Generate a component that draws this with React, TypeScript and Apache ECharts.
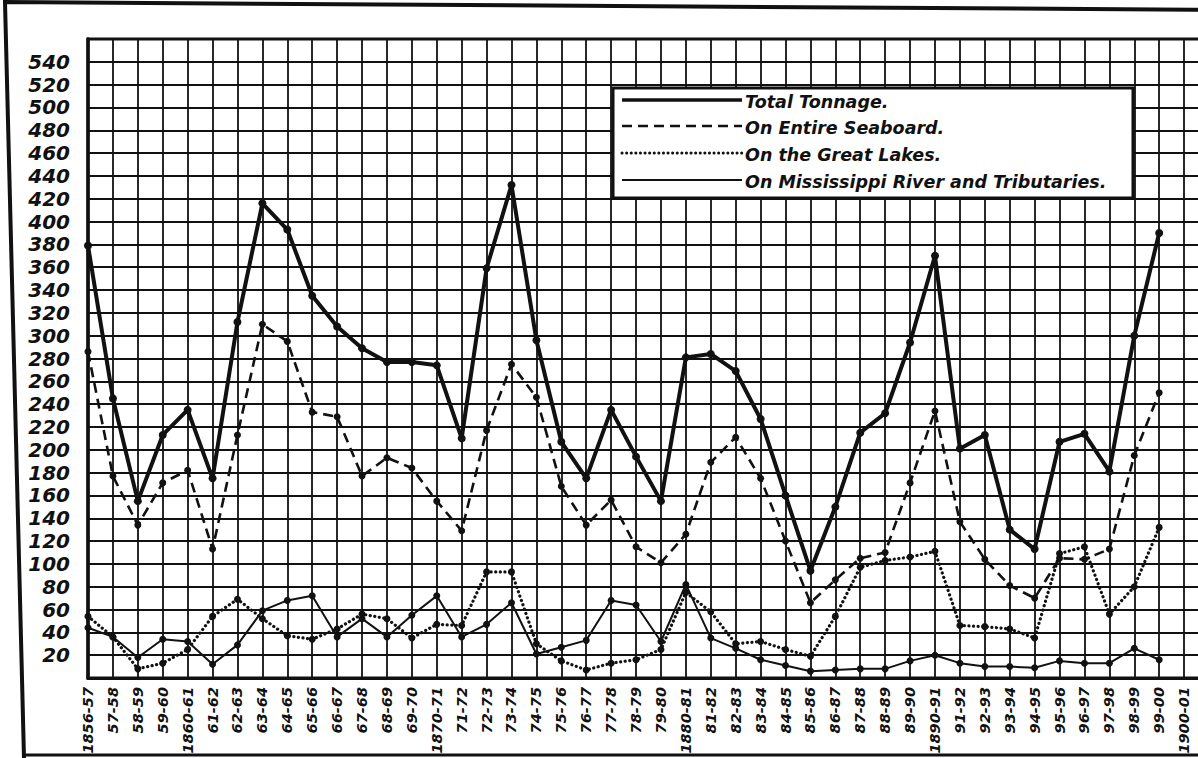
import React, { useEffect, useRef } from "react";
import * as echarts from "echarts";

const categories = [
  "1856-57", "57-58", "58-59", "59-60", "1860-61", "61-62", "62-63", "63-64", "64-65", "65-66",
  "66-67", "67-68", "68-69", "69-70", "1870-71", "71-72", "72-73", "73-74", "74-75", "75-76",
  "76-77", "77-78", "78-79", "79-80", "1880-81", "81-82", "82-83", "83-84", "84-85", "85-86",
  "86-87", "87-88", "88-89", "89-90", "1890-91", "91-92", "92-93", "93-94", "94-95", "95-96",
  "96-97", "97-98", "98-99", "99-00", "1900-01",
];

const totalTonnage = [
  379, 245, 155, 213, 235, 175, 312, 416, 393, 335,
  308, 289, 277, 277, 274, 210, 359, 432, 296, 207,
  175, 235, 194, 155, 281, 284, 269, 227, 160, 94,
  150, 215, 232, 294, 370, 201, 213, 130, 113, 207,
  214, 181, 300, 390,
];

const seaboard = [
  286, 177, 134, 171, 182, 113, 213, 310, 295, 233,
  229, 177, 193, 184, 155, 129, 217, 275, 246, 168,
  134, 156, 115, 101, 126, 189, 211, 175, 120, 66,
  86, 105, 110, 171, 234, 137, 104, 81, 70, 105,
  104, 113, 195, 250,
];

const greatLakes = [
  54, 36, 8, 13, 25, 54, 69, 52, 37, 34,
  43, 56, 52, 35, 47, 46, 93, 93, 30, 15,
  7, 13, 16, 25, 75, 58, 30, 32, 25, 19,
  54, 97, 103, 106, 111, 46, 45, 43, 35, 109,
  115, 56, 80, 132,
];

const mississippi = [
  44, 36, 18, 34, 32, 12, 29, 59, 68, 72,
  36, 52, 36, 55, 72, 36, 47, 66, 21, 27,
  33, 68, 64, 32, 82, 35, 26, 16, 11, 6,
  7, 8, 8, 15, 20, 13, 10, 10, 9, 15,
  13, 13, 26, 16,
];

const seriesNames = [
  "Total Tonnage.",
  "On Entire Seaboard.",
  "On the Great Lakes.",
  "On Mississippi River and Tributaries.",
];

const yMax = 560;
const yStep = 20;

const FONT = '"DejaVu Sans", sans-serif';

function pairs(values: number[]) {
  return values.map((v, i) => [i, v]);
}

export default function App() {
  const ref = useRef<HTMLDivElement>(null);

  useEffect(() => {
    if (!ref.current) return;
    const chart = echarts.init(ref.current, undefined, { renderer: "svg" });

    const black = "#111";
    const legendX = 613;
    const legendY = 88;
    const rowY = [100, 126, 153, 180];
    const lineX1 = 622;
    const lineX2 = 742;
    const textX = 745;

    const legendStyles = [
      { lineWidth: 3.5, lineDash: null as any, lineCap: "butt" },
      { lineWidth: 2.5, lineDash: [10, 6], lineCap: "butt" },
      { lineWidth: 3, lineDash: [0.1, 4.5], lineCap: "round" },
      { lineWidth: 2.2, lineDash: null as any, lineCap: "butt" },
    ];

    const legendGraphics: any[] = [
      {
        type: "rect",
        z: 100,
        shape: { x: legendX, y: legendY, width: 520, height: 110 },
        style: { fill: "#fff", stroke: black, lineWidth: 3 },
      },
    ];
    seriesNames.forEach((name, i) => {
      legendGraphics.push({
        type: "line",
        z: 101,
        shape: { x1: lineX1, y1: rowY[i], x2: lineX2, y2: rowY[i] },
        style: {
          stroke: black,
          lineWidth: legendStyles[i].lineWidth,
          lineDash: legendStyles[i].lineDash,
          lineCap: legendStyles[i].lineCap,
        },
      });
      legendGraphics.push({
        type: "text",
        z: 101,
        x: textX,
        y: rowY[i] + 2,
        style: {
          text: name,
          fill: black,
          font: `italic bold 17.5px ${FONT}`,
          verticalAlign: "middle",
          align: "left",
        },
      });
    });

    const frame = [
      {
        type: "polyline",
        z: 100,
        shape: { points: [[1230, 10], [5, 2], [24, 758]] },
        style: { stroke: black, lineWidth: 4, fill: null },
      },
      {
        type: "line",
        z: 100,
        shape: { x1: 22, y1: 755, x2: 1230, y2: 755 },
        style: { stroke: black, lineWidth: 3 },
      },
    ];

    const common = {
      type: "line",
      symbol: "circle",
      color: black,
      itemStyle: { color: black },
      z: 5,
    };

    chart.setOption({
      animation: false,
      backgroundColor: "#fff",
      grid: {
        left: 88,
        right: 21,
        top: 39,
        bottom: 80,
        containLabel: false,
        outerBoundsMode: "none",
        show: true,
        borderColor: black,
        borderWidth: 3,
        backgroundColor: "transparent",
      },
      xAxis: {
        type: "value",
        min: 0,
        max: 45,
        interval: 1,
        axisLine: { show: true, lineStyle: { color: black, width: 3 } },
        axisTick: { show: false },
        splitLine: { show: true, lineStyle: { color: black, width: 1.8 } },
        axisLabel: {
          rotate: 90,
          margin: 9,
          color: black,
          fontFamily: FONT,
          fontStyle: "italic",
          fontWeight: "bold",
          fontSize: 14.5,
          formatter: (v: number) => (Number.isInteger(v) && categories[v] ? categories[v] : ""),
        },
      },
      yAxis: {
        type: "value",
        min: 0,
        max: yMax,
        interval: yStep,
        axisLine: { show: true, lineStyle: { color: black, width: 3.5 } },
        axisTick: { show: false },
        splitLine: { show: true, lineStyle: { color: black, width: 1.8 } },
        axisLabel: {
          margin: 18,
          color: black,
          fontFamily: FONT,
          fontStyle: "italic",
          fontWeight: "bold",
          fontSize: 20,
          formatter: (v: number) => (v === 0 || v === yMax ? "" : String(v)),
        },
      },
      series: [
        {
          ...common,
          name: seriesNames[0],
          data: pairs(totalTonnage),
          symbolSize: 8,
          lineStyle: { color: black, width: 4 },
        },
        {
          ...common,
          name: seriesNames[1],
          data: pairs(seaboard),
          symbolSize: 7,
          lineStyle: { color: black, width: 2.6, type: [10, 6] },
        },
        {
          ...common,
          name: seriesNames[2],
          data: pairs(greatLakes),
          symbolSize: 7,
          lineStyle: { color: black, width: 3.2, type: [0.1, 4.5], cap: "round" },
        },
        {
          ...common,
          name: seriesNames[3],
          data: pairs(mississippi),
          symbolSize: 7,
          lineStyle: { color: black, width: 2 },
        },
      ],
      graphic: [...frame, ...legendGraphics],
    });

    return () => chart.dispose();
  }, []);

  return (
    <div
      ref={ref}
      style={{ position: "fixed", left: 0, top: 0, width: 1230, height: 758, background: "#fff" }}
    />
  );
}
